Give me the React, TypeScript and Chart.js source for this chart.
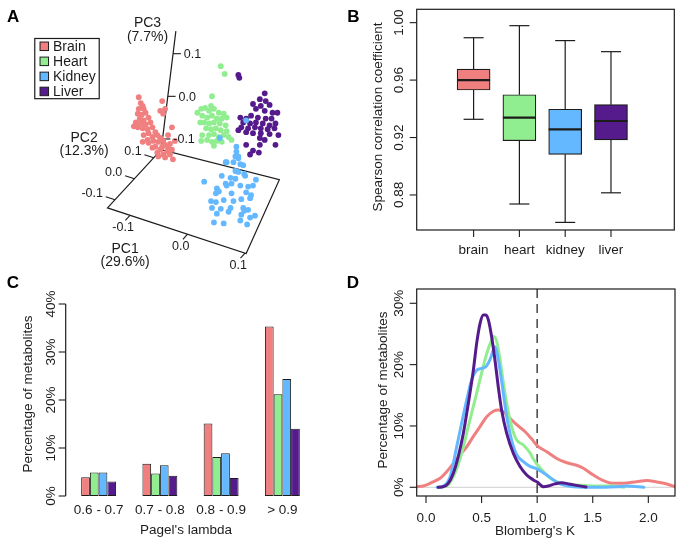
import React, { useEffect, useRef } from 'react';
import { Chart, registerables } from 'chart.js';
Chart.register(...registerables);

const FONT = '"Liberation Sans", Arial, Helvetica, sans-serif';
const INK = '#1c1c1c';

const tissues = ['Brain', 'Heart', 'Kidney', 'Liver'];
const tissueColors = ['#F08080', '#90EE90', '#63B8FF', '#551A8B'];

// ---------- Panel A: PCA, points in projected view coordinates ----------
const pcaBrain = [[138,96],[140,102],[142,105],[138,108],[143,108],[137,113],[141,114],[145,112],[139,118],[143,120],[148,117],[135,122],[140,123],[145,124],[150,122],[152,127],[137,127],[142,128],[147,129],[133,126],[155,132],[148,133],[143,135],[152,137],[157,135],[160,138],[147,140],[153,141],[158,142],[163,141],[165,145],[162,147],[155,147],[168,148],[160,150],[167,152],[172,150],[157,153],[163,155],[170,155],[162,100],[160,110],[163,113],[165,108],[172,127],[168,135],[142,142],[148,143],[152,148],[173,160],[165,158],[158,157],[170,144],[175,141]];
const pcaHeart = [[222,64],[226,72],[213,95],[202,108],[206,107],[210,110],[215,108],[220,112],[225,113],[203,115],[208,117],[213,115],[218,118],[223,118],[228,117],[205,122],[210,123],[215,122],[221,123],[227,125],[207,128],[212,129],[217,128],[222,130],[228,131],[203,135],[210,135],[215,134],[220,137],[230,137],[202,141],[208,140],[213,142],[218,141],[223,142],[215,146],[233,140],[198,112],[201,122],[212,105],[225,135]];
const pcaKidney = [[248,120],[221,138],[238,147],[237,157],[240,159],[235,163],[242,165],[245,166],[227,163],[237,172],[240,173],[246,175],[223,177],[232,179],[237,180],[247,177],[205,183],[227,185],[233,185],[258,181],[218,190],[228,187],[242,187],[250,188],[255,187],[217,195],[220,193],[233,195],[248,194],[253,197],[212,203],[217,204],[225,202],[235,203],[243,201],[252,200],[213,210],[222,211],[232,210],[245,210],[250,212],[218,216],[230,214],[243,217],[252,220],[257,218],[215,225],[225,226],[242,223],[249,227],[246,213],[238,152],[240,157],[228,163]];
const pcaLiver = [[240,73],[241,76],[267,92],[262,98],[268,100],[255,103],[263,105],[272,104],[258,108],[267,110],[275,112],[280,112],[242,117],[248,118],[253,115],[260,117],[268,118],[274,118],[245,122],[252,123],[258,122],[265,123],[272,125],[278,123],[243,127],[250,128],[257,127],[263,128],[270,129],[277,128],[248,132],[255,133],[263,133],[272,134],[262,138],[267,140],[278,145],[262,145],[255,151],[261,153],[252,155],[248,145],[281,135],[240,130]];
const pcNames = ['PC1', 'PC2', 'PC3'];
const pcVariance = ['(29.6%)', '(12.3%)', '(7.7%)'];
const pcTicks = [-0.1, 0.0, 0.1];

// ---------- Panel B: boxplots ----------
const boxCategories = ['brain', 'heart', 'kidney', 'liver'];
const boxLower = [0.9327, 0.8737, 0.8609, 0.8815];
const boxQ1 = [0.9531, 0.9178, 0.9083, 0.9183];
const boxMedian = [0.9600, 0.9338, 0.9257, 0.9315];
const boxQ3 = [0.9677, 0.9498, 0.9397, 0.9429];
const boxUpper = [0.9895, 0.9979, 0.9875, 0.9798];
const boxYTicks = [0.88, 0.92, 0.96, 1.0];

// ---------- Panel C: Pagel's lambda ----------
const lambdaBins = ['0.6 - 0.7', '0.7 - 0.8', '0.8 - 0.9', '> 0.9'];
const lambdaBrain = [3.9, 6.7, 15.1, 35.3];
const lambdaHeart = [4.9, 4.7, 8.1, 21.2];
const lambdaKidney = [4.9, 6.4, 8.9, 24.4];
const lambdaLiver = [3.0, 4.2, 3.75, 14.0];
const lambdaYTicks = [0, 10, 20, 30, 40];

// ---------- Panel D: Blomberg's K densities ----------
const kBrain = [[-0.084,0.1],[-0.024,0.2],[0.05,0.76],[0.126,1.47],[0.186,2.55],[0.246,3.9],[0.306,5.3],[0.366,6.6],[0.426,8.3],[0.486,9.9],[0.546,11.5],[0.606,12.4],[0.65,12.6],[0.696,12.3],[0.756,11.25],[0.816,10.2],[0.89,9.1],[0.95,7.9],[1.0,6.8],[1.086,5.8],[1.176,4.7],[1.266,4.0],[1.356,3.6],[1.416,3.1],[1.506,2.0],[1.596,1.1],[1.686,0.65],[1.776,0.65],[1.896,0.92],[1.986,1.1],[2.076,0.87],[2.166,0.54],[2.24,0.1]];
const kHeart = [[0.14,0],[0.2,0.4],[0.26,2.3],[0.32,5.5],[0.38,9.9],[0.44,14.2],[0.5,18.6],[0.546,21.8],[0.59,24.0],[0.61,24.6],[0.636,23.8],[0.666,20.8],[0.696,17.0],[0.73,13.2],[0.77,9.9],[0.816,7.7],[0.876,6.9],[0.936,5.6],[0.966,4.6],[1.0,3.7],[1.03,3.1],[1.086,2.0],[1.146,1.2],[1.235,0.54],[1.386,0.33],[1.536,0.2],[1.686,0.2],[1.78,0]];
const kKidney = [[0.1,0],[0.156,0.2],[0.216,1.7],[0.276,6.6],[0.32,10.4],[0.366,14.2],[0.41,17.5],[0.456,19.1],[0.5,19.4],[0.54,19.7],[0.576,20.8],[0.606,22.4],[0.62,22.9],[0.64,21.8],[0.666,19.1],[0.696,15.3],[0.726,11.5],[0.77,7.7],[0.816,5.3],[0.876,4.2],[0.936,3.4],[1.0,3.0],[1.026,2.7],[1.086,2.0],[1.146,1.2],[1.206,0.54],[1.326,0.1],[1.536,0],[1.716,0.1],[1.806,0.2],[1.96,0]];
const kLiver = [[0.11,0],[0.156,0.1],[0.2,0.65],[0.246,2.3],[0.29,5.0],[0.336,8.8],[0.381,13.7],[0.426,19.1],[0.456,23.5],[0.486,26.7],[0.516,28.1],[0.54,28.1],[0.561,27.3],[0.59,24.6],[0.62,20.8],[0.65,16.4],[0.68,12.6],[0.726,8.8],[0.786,5.5],[0.846,3.4],[0.906,2.0],[0.966,1.2],[1.0,0.85],[1.056,0.1],[1.1,0.2],[1.16,0.55],[1.22,0.75],[1.28,0.55],[1.34,0.35],[1.44,0.05]];
const kXTicks = [0, 0.5, 1.0, 1.5, 2.0];
const kYTicks = [0, 10, 20, 30];

// ---------- helpers ----------
type Pt = [number, number];
function drawText(ctx: CanvasRenderingContext2D, s: string, x: number, y: number, o: any = {}) {
  ctx.save();
  ctx.font = `${o.bold ? 'bold ' : ''}${o.size ?? 13.5}px ${FONT}`;
  ctx.fillStyle = o.color ?? INK;
  ctx.textAlign = o.align ?? 'center';
  ctx.textBaseline = o.base ?? 'alphabetic';
  ctx.translate(x, y);
  if (o.rot) ctx.rotate(o.rot);
  ctx.fillText(s, 0, 0);
  ctx.restore();
}
function seg(ctx: CanvasRenderingContext2D, x1: number, y1: number, x2: number, y2: number, color = INK, w = 1, dash: number[] = []) {
  ctx.save();
  ctx.strokeStyle = color; ctx.lineWidth = w; ctx.setLineDash(dash);
  ctx.beginPath(); ctx.moveTo(x1, y1); ctx.lineTo(x2, y2); ctx.stroke();
  ctx.restore();
}
const ROT = -Math.PI / 2;
function baseOptions(xs: any, ys: any, padding: any) {
  return {
    animation: false, responsive: false, events: [],
    layout: { padding },
    plugins: { legend: { display: false }, tooltip: { enabled: false } },
    scales: { x: { display: false, ...xs }, y: { display: false, ...ys } },
  };
}

// ---------- Panel A plugin ----------
const FL: Pt = [106, 210], BL: Pt = [161, 150], BR: Pt = [282, 181], FR: Pt = [248, 257], TOP: Pt = [176, 28];
const lerp = (a: Pt, b: Pt, t: number): Pt => [a[0] + (b[0] - a[0]) * t, a[1] + (b[1] - a[1]) * t];
const add = (a: Pt, d: Pt, k: number): Pt => [a[0] + d[0] * k, a[1] + d[1] * k];
const D1: Pt = [-0.669, 0.743], D2: Pt = [-0.949, -0.314];

const pcaPlugin = {
  id: 'pcaAxes',
  beforeDatasetsDraw(chart: any) {
    const ctx = chart.ctx as CanvasRenderingContext2D;
    const px = (p: Pt): Pt => [chart.scales.x.getPixelForValue(p[0]), chart.scales.y.getPixelForValue(p[1])];
    ctx.save();
    ctx.strokeStyle = INK; ctx.lineWidth = 1.2;
    ctx.beginPath();
    [FL, BL, BR, FR].map(px).forEach(([x, y], i) => (i ? ctx.lineTo(x, y) : ctx.moveTo(x, y)));
    ctx.closePath();
    const b = px(BL), t = px(TOP);
    ctx.moveTo(b[0], b[1]); ctx.lineTo(t[0], t[1]);
    ctx.stroke();
    ctx.restore();
    pcTicks.forEach((v) => {
      let p = lerp(FL, FR, 0.577 + v * 4.15);
      let P = px(p), Q = px(add(p, D1, 7));
      seg(ctx, P[0], P[1], Q[0], Q[1], INK, 1.1);
      p = lerp(FL, BL, 0.5 + v * 3.6);
      P = px(p); Q = px(add(p, D2, 10));
      seg(ctx, P[0], P[1], Q[0], Q[1], INK, 1.1);
      p = lerp(BL, TOP, 0.45 + v * 3.6);
      P = px(p); Q = px(add(p, [1, 0], 8));
      seg(ctx, P[0], P[1], Q[0], Q[1], INK, 1.1);
    });
  },
  afterDatasetsDraw(chart: any) {
    const ctx = chart.ctx as CanvasRenderingContext2D;
    const px = (p: Pt): Pt => [chart.scales.x.getPixelForValue(p[0]), chart.scales.y.getPixelForValue(p[1])];
    pcTicks.forEach((v) => {
      const lab = v.toFixed(1);
      let p = lerp(FL, FR, 0.577 + v * 4.15);
      let L = px(add(p, [-7, 13], 1));
      drawText(ctx, lab, L[0], L[1], { size: 12.5, base: 'middle' });
      p = lerp(FL, BL, 0.5 + v * 3.6);
      L = px(add(add(p, D2, 13), [0, -2], 1));
      drawText(ctx, lab, L[0], L[1], { size: 12.5, base: 'middle', align: 'right' });
      p = lerp(BL, TOP, 0.45 + v * 3.6);
      L = px(add(p, [11, 1], 1));
      drawText(ctx, lab, L[0], L[1], { size: 12.5, base: 'middle', align: 'left' });
    });
    const namePos: Pt[] = [[124, 252], [82, 138], [147, 20]];
    pcNames.forEach((n, i) => {
      const a = px(namePos[i]);
      const c = px([namePos[i][0], namePos[i][1] + 14]);
      drawText(ctx, n, a[0], a[1], { size: 14, base: 'middle' });
      drawText(ctx, pcVariance[i], c[0], c[1], { size: 14, base: 'middle' });
    });
  },
  afterDraw(chart: any) {
    const ctx = chart.ctx as CanvasRenderingContext2D;
    const px = (p: Pt): Pt => [chart.scales.x.getPixelForValue(p[0]), chart.scales.y.getPixelForValue(p[1])];
    const a = px([31, 35]), b = px([97, 97]);
    ctx.save();
    ctx.fillStyle = '#fff';
    ctx.fillRect(a[0], a[1], b[0] - a[0], b[1] - a[1]);
    ctx.strokeStyle = INK; ctx.lineWidth = 1.2;
    ctx.strokeRect(a[0] + 0.5, a[1] + 0.5, b[0] - a[0], b[1] - a[1]);
    tissues.forEach((name, i) => {
      const c = px([41, 43.3 + 15.5 * i]);
      ctx.fillStyle = tissueColors[i];
      ctx.fillRect(c[0] - 4, c[1] - 4, 8.5, 8.5);
      ctx.lineWidth = 1;
      ctx.strokeRect(c[0] - 4, c[1] - 4, 8.5, 8.5);
      drawText(ctx, name, c[0] + 9, c[1] + 5, { size: 14, align: 'left' });
    });
    ctx.restore();
    drawText(ctx, 'A', 7, 21.7, { size: 17, bold: true, align: 'left', color: '#000' });
  },
};

// ---------- Panel B plugin ----------
const boxPlugin = {
  id: 'boxAxes',
  afterDatasetsDraw(chart: any) {
    const ctx = chart.ctx as CanvasRenderingContext2D;
    const a = chart.chartArea, x = chart.scales.x, y = chart.scales.y;
    boxCategories.forEach((c, i) => {
      const cx = x.getPixelForValue(i + 1);
      const yU = y.getPixelForValue(boxUpper[i]), yL = y.getPixelForValue(boxLower[i]);
      const y3 = y.getPixelForValue(boxQ3[i]), y1 = y.getPixelForValue(boxQ1[i]);
      const ym = y.getPixelForValue(boxMedian[i]);
      seg(ctx, cx, y3, cx, yU, INK, 1.2);
      seg(ctx, cx, y1, cx, yL, INK, 1.2);
      seg(ctx, cx - 10, yU, cx + 10, yU, INK, 1.2);
      seg(ctx, cx - 10, yL, cx + 10, yL, INK, 1.2);
      seg(ctx, cx - 16.5, ym, cx + 16.5, ym, INK, 2.2);
      seg(ctx, cx, a.bottom, cx, a.bottom + 7, INK, 1.1);
      drawText(ctx, c, cx, a.bottom + 23.5);
    });
    ctx.save();
    ctx.strokeStyle = INK; ctx.lineWidth = 1.2;
    ctx.strokeRect(a.left, a.top, a.right - a.left, a.bottom - a.top);
    ctx.restore();
    boxYTicks.forEach((v) => {
      const yy = y.getPixelForValue(v);
      seg(ctx, a.left - 7, yy, a.left, yy, INK, 1.1);
      drawText(ctx, v.toFixed(2), a.left - 13.5, yy, { rot: ROT });
    });
    drawText(ctx, 'Spearson correlation coefficient', 41.7, 117, { rot: ROT });
    drawText(ctx, 'B', 7.3, 21.7, { size: 17, bold: true, align: 'left', color: '#000' });
  },
};

// ---------- Panel C plugin ----------
const lambdaPlugin = {
  id: 'lambdaAxes',
  afterDraw(chart: any) {
    const ctx = chart.ctx as CanvasRenderingContext2D;
    const x = chart.scales.x, y = chart.scales.y;
    const ax = 65.7;
    seg(ctx, ax, y.getPixelForValue(0), ax, y.getPixelForValue(40), INK, 1.2);
    lambdaYTicks.forEach((v) => {
      const yy = y.getPixelForValue(v);
      seg(ctx, ax - 7, yy, ax, yy, INK, 1.1);
      drawText(ctx, v + '%', 55, yy, { rot: ROT });
    });
    lambdaBins.forEach((b, i) => drawText(ctx, b, x.getPixelForValue(i), 243.5));
    drawText(ctx, "Pagel's lambda", 186, 264);
    drawText(ctx, 'Percentage of metabolites', 31.7, 124, { rot: ROT });
    drawText(ctx, 'C', 6.7, 18.3, { size: 17, bold: true, align: 'left', color: '#000' });
  },
};

// ---------- Panel D plugin ----------
const kPlugin = {
  id: 'kAxes',
  beforeDatasetsDraw(chart: any) {
    const ctx = chart.ctx as CanvasRenderingContext2D;
    const a = chart.chartArea, x = chart.scales.x, y = chart.scales.y;
    const y0 = y.getPixelForValue(0);
    seg(ctx, a.left, y0, a.right, y0, '#cfcfcf', 1);
    const x1 = x.getPixelForValue(1);
    seg(ctx, x1, a.top, x1, a.bottom, '#444', 1.5, [9, 6]);
  },
  afterDraw(chart: any) {
    const ctx = chart.ctx as CanvasRenderingContext2D;
    const a = chart.chartArea, x = chart.scales.x, y = chart.scales.y;
    ctx.save();
    ctx.strokeStyle = INK; ctx.lineWidth = 1.2;
    ctx.strokeRect(a.left, a.top, a.right - a.left, a.bottom - a.top);
    ctx.restore();
    kYTicks.forEach((v) => {
      const yy = y.getPixelForValue(v);
      seg(ctx, a.left - 7, yy, a.left, yy, INK, 1.1);
      drawText(ctx, v + '%', a.left - 14, yy, { rot: ROT });
    });
    kXTicks.forEach((v) => {
      const xx = x.getPixelForValue(v);
      seg(ctx, xx, a.bottom, xx, a.bottom + 7, INK, 1.1);
      drawText(ctx, v.toFixed(1), xx, 252);
    });
    drawText(ctx, "Blomberg's K", 195, 265);
    drawText(ctx, 'Percentage of metabolites', 46.7, 120, { rot: ROT });
    drawText(ctx, 'D', 6.7, 18.3, { size: 17, bold: true, align: 'left', color: '#000' });
  },
};

// ---------- configs ----------
function configA(): any {
  const sets = [pcaBrain, pcaHeart, pcaKidney, pcaLiver];
  const order = [4, 3, 1, 2];
  return {
    type: 'scatter',
    data: {
      datasets: tissues.map((t, i) => ({
        label: t,
        data: sets[i].map(([x, y]) => ({ x, y })),
        backgroundColor: tissueColors[i],
        borderWidth: 0,
        pointRadius: 2.9,
        pointBorderWidth: 0,
        order: order[i],
      })),
    },
    options: baseOptions({ type: 'linear', min: 0, max: 340 }, { type: 'linear', min: 0, max: 275, reverse: true }, 0),
    plugins: [pcaPlugin],
  };
}
function configB(): any {
  return {
    type: 'bar',
    data: {
      datasets: [{
        data: boxQ1.map((q, i) => ({ x: i + 1, y: [q, boxQ3[i]] })),
        backgroundColor: tissueColors,
        borderColor: INK,
        borderWidth: 1.2,
        borderSkipped: false,
        barThickness: 33,
      }],
    },
    options: baseOptions({ type: 'linear', min: 0.32, max: 4.82 }, { type: 'linear', min: 0.8556, max: 1.0093 },
      { left: 76.7, right: 10.7, top: 9.3, bottom: 40 }),
    plugins: [boxPlugin],
  };
}
function configC(): any {
  const vals = [lambdaBrain, lambdaHeart, lambdaKidney, lambdaLiver];
  return {
    type: 'bar',
    data: {
      labels: lambdaBins,
      datasets: tissues.map((t, i) => ({
        label: t,
        data: vals[i],
        backgroundColor: tissueColors[i],
        borderColor: INK,
        borderWidth: 1,
        borderSkipped: false,
        barPercentage: 1,
        categoryPercentage: 0.57,
      })),
    },
    options: baseOptions({ type: 'category' }, { type: 'linear', min: 0, max: 40 },
      { left: 68, right: 27, top: 34, bottom: 49 }),
    plugins: [lambdaPlugin],
  };
}
function configD(): any {
  const sets = [kBrain, kHeart, kKidney, kLiver];
  const order = [4, 3, 2, 1];
  return {
    type: 'line',
    data: {
      datasets: tissues.map((t, i) => ({
        label: t,
        data: sets[i].map(([x, y]) => ({ x, y })),
        borderColor: tissueColors[i],
        borderWidth: 3,
        pointRadius: 0,
        fill: false,
        cubicInterpolationMode: 'monotone',
        borderCapStyle: 'round',
        borderJoinStyle: 'round',
        clip: 0,
        order: order[i],
      })),
    },
    options: baseOptions({ type: 'linear', min: -0.0837, max: 2.24 }, { type: 'linear', min: -1.42, max: 32.33 },
      { left: 76.7, right: 10, top: 19, bottom: 49 }),
    plugins: [kPlugin],
  };
}

function Panel({ left, top, width, height, build }: { left: number; top: number; width: number; height: number; build: () => any }) {
  const ref = useRef<HTMLCanvasElement>(null);
  useEffect(() => {
    const chart = new Chart(ref.current as HTMLCanvasElement, build());
    return () => chart.destroy();
  }, []);
  return (
    <canvas ref={ref} width={width} height={height}
      style={{ position: 'absolute', left, top, width, height }} />
  );
}

export default function App() {
  return (
    <div style={{ position: 'absolute', left: 0, top: 0, width: 685, height: 545, background: '#fff', overflow: 'hidden' }}>
      <Panel left={0} top={0} width={340} height={275} build={configA} />
      <Panel left={340} top={0} width={345} height={270} build={configB} />
      <Panel left={0} top={270} width={340} height={275} build={configC} />
      <Panel left={340} top={270} width={345} height={275} build={configD} />
    </div>
  );
}
